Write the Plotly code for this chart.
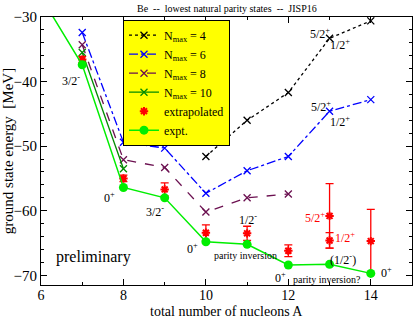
import plotly.graph_objects as go

# ---- data ----
A_nmax4 = [10, 11, 12, 13, 14]
E_nmax4 = [-51.6, -46.0, -41.7, -33.3, -30.6]

A_nmax6 = [7, 8, 9, 10, 11, 12, 13, 14]
E_nmax6 = [-32.4, -49.4, -50.3, -57.3, -53.8, -51.6, -44.6, -42.8]

A_nmax8 = [7, 8, 9, 10, 11, 12]
E_nmax8 = [-34.3, -52.1, -53.3, -60.2, -58.0, -57.4]

A_nmax10 = [7, 8]
E_nmax10 = [-35.5, -53.5]

A_extrap = [7, 8, 9, 10, 11, 12, 13, 13, 14]
E_extrap = [-36.6, -55.0, -56.7, -63.4, -63.5, -66.2, -60.8, -64.6, -64.7]
err_plus = [0.5, 0.5, 1.0, 1.2, 1.1, 0.9, 5.0, 1.2, 4.9]
err_minus = [0.5, 0.5, 1.0, 1.2, 1.1, 0.9, 5.0, 1.2, 4.9]

A_expt = [6, 7, 8, 9, 10, 11, 12, 13, 14]
E_expt = [-26.9, -37.4, -56.4, -58.0, -64.8, -65.2, -68.4, -68.3, -69.7]

x_ticks = [6, 8, 10, 12, 14]
y_ticks = [-70, -60, -50, -40, -30]

# labels: (A, E, text, color, size)
labels = [
    (6.72, -39.8, "3/2<sup>-</sup>", "black", 12),
    (7.67, -57.9, "0<sup>+</sup>", "black", 12),
    (8.76, -60.1, "3/2<sup>-</sup>", "black", 12),
    (9.68, -65.9, "0<sup>+</sup>", "black", 12),
    (11.03, -61.4, "1/2<sup>-</sup>", "black", 12),
    (11.8, -70.4, "0<sup>+</sup>", "black", 12),
    (13.33, -67.6, "(1/2<sup>-</sup>)", "black", 12),
    (14.38, -69.6, "0<sup>+</sup>", "black", 12),
    (12.64, -61.1, "5/2<sup>+</sup>", "red", 12),
    (13.37, -64.2, "1/2<sup>+</sup>", "red", 12),
    (12.76, -32.5, "5/2<sup>+</sup>", "black", 12),
    (13.25, -34.3, "1/2<sup>+</sup>", "black", 12),
    (12.80, -43.8, "5/2<sup>+</sup>", "black", 12),
    (13.25, -46.2, "1/2<sup>+</sup>", "black", 12),
    (10.95, -66.9, "parity inversion", "black", 10),
    (12.93, -70.7, "parity inversion?", "black", 10),
    (7.27, -67.1, "preliminary", "black", 16),
]

x_title = "total number of nucleons A"
y_title = "ground state energy  [MeV]"

FONT = "Liberation Serif"

fig = go.Figure()

def nmax_trace(x, y, name, color, dash):
    return go.Scatter(
        x=x, y=y, name=name, mode="lines+markers",
        line=dict(color=color, width=1.3, dash=dash),
        marker=dict(symbol="x-thin", size=7, line=dict(color=color, width=1.3), color=color),
    )

fig.add_trace(nmax_trace(A_nmax4, E_nmax4, "N<sub>max</sub> = 4", "black", "dot"))
fig.add_trace(nmax_trace(A_nmax6, E_nmax6, "N<sub>max</sub> = 6", "#0000ff", "dashdot"))
fig.add_trace(nmax_trace(A_nmax8, E_nmax8, "N<sub>max</sub> = 8", "#6b1050", "dash"))
fig.add_trace(nmax_trace(A_nmax10, E_nmax10, "N<sub>max</sub> = 10", "#008b00", "solid"))

fig.add_trace(go.Scatter(
    x=A_extrap, y=E_extrap, name="extrapolated", mode="markers",
    marker=dict(symbol="asterisk-open", size=7, color="red", line=dict(color="red", width=2)),
    error_y=dict(type="data", array=err_plus, arrayminus=err_minus, color="red",
                 thickness=1.3, width=4, visible=True),
))

fig.add_trace(go.Scatter(
    x=A_expt, y=E_expt, name="expt.", mode="lines+markers",
    line=dict(color="#00ee00", width=1.5),
    marker=dict(symbol="circle", size=9, color="#00ee00"),
))

for a, e, t, c, s in labels:
    fig.add_annotation(x=a, y=e, text=t, showarrow=False,
                       font=dict(family=FONT, size=s, color=c))

# x-axis title as a text placed below tick labels
fig.add_annotation(x=0.5, y=0, xref="paper", yref="paper", text=x_title,
                   showarrow=False, yanchor="top", yshift=-17,
                   font=dict(family=FONT, size=14, color="black"))

axis_common = dict(
    showgrid=False, zeroline=False, showline=True, linecolor="black", linewidth=1,
    mirror="allticks", ticks="inside", ticklen=6, tickcolor="black", tickwidth=1,
    automargin=False,
)

fig.update_xaxes(range=[6, 15], tickvals=x_ticks, ticklabelstandoff=-3,
                 tickfont=dict(family=FONT, size=14, color="black"),
                 minor=dict(ticks="inside", ticklen=3, dtick=1, tickcolor="black"),
                 **axis_common)
fig.update_yaxes(range=[-71.5, -30], tickvals=y_ticks,
                 tickfont=dict(family=FONT, size=15, color="black"),
                 minor=dict(ticks="inside", ticklen=3, dtick=2, tickcolor="black"),
                 title=dict(text=y_title, font=dict(family=FONT, size=15, color="black")),
                 **axis_common)

fig.update_layout(
    width=414, height=316,
    margin=dict(l=41, r=2, t=17, b=31),
    font=dict(family=FONT, color="black"),
    paper_bgcolor="white", plot_bgcolor="white",
    title=dict(text="Be  --  lowest natural parity states  --  JISP16",
               font=dict(family=FONT, size=10, color="black"),
               x=0.548, xanchor="center", y=0.985, yanchor="top"),
    legend=dict(x=0.221, y=0.99, xanchor="left", yanchor="top",
                bgcolor="#ffff00", bordercolor="black", borderwidth=1,
                font=dict(family=FONT, size=12, color="black"),
                tracegroupgap=0, itemwidth=30),
    showlegend=True,
)

fig.write_html("out.html", config={"displayModeBar": False},
               post_script="document.body.style.margin='0';document.body.style.padding='0';")
